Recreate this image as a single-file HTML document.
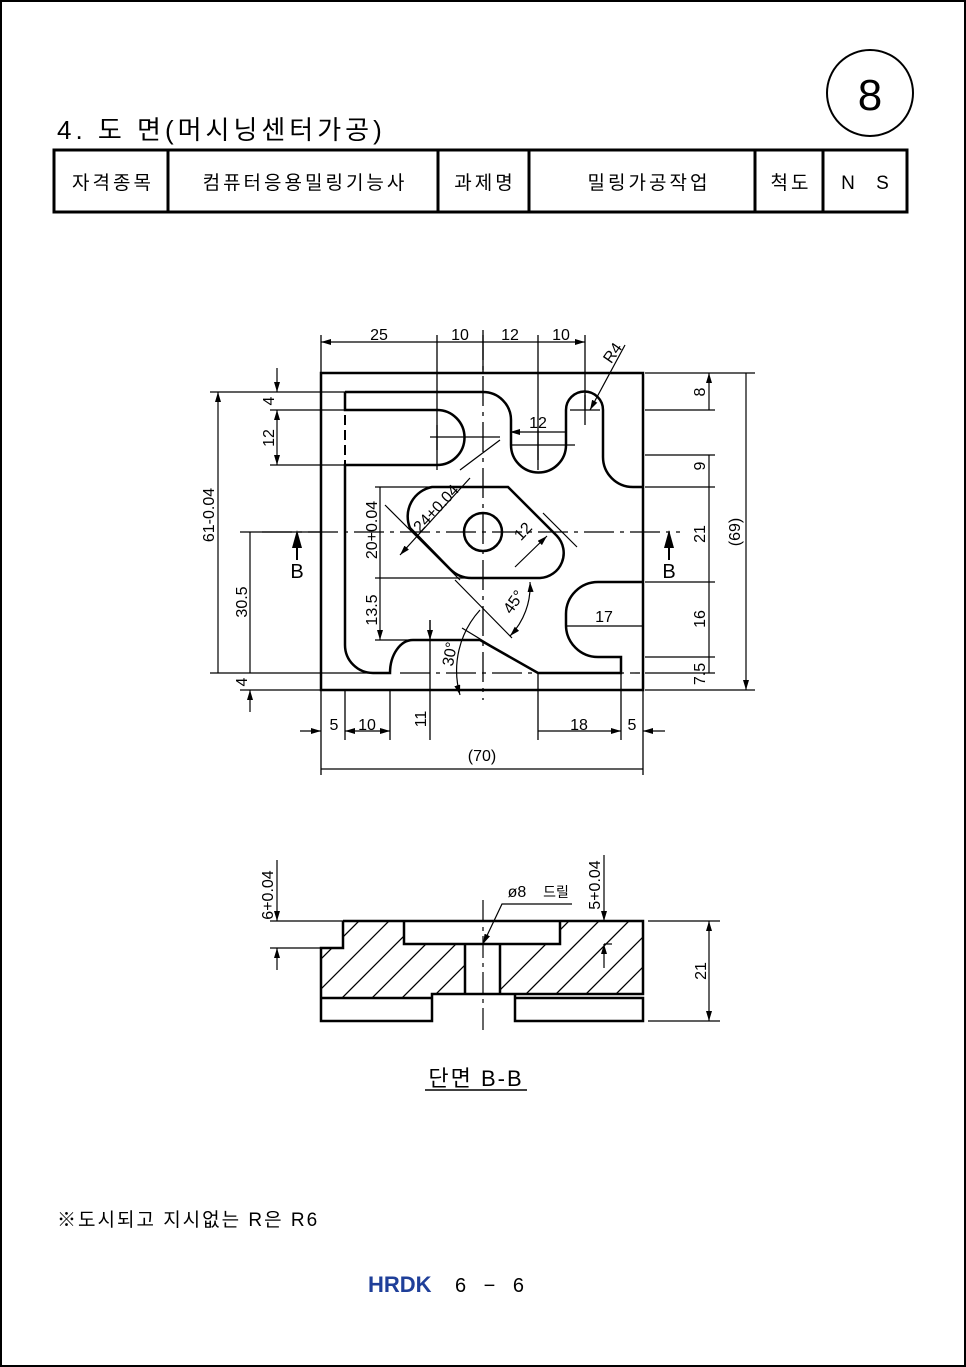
<!DOCTYPE html>
<html><head><meta charset="utf-8"><style>
body{margin:0;background:#fff}
svg{display:block}
text{font-family:"Liberation Sans","Noto Sans CJK KR",sans-serif;fill:#000}
.k{font-family:"Liberation Sans","Noto Sans CJK KR",sans-serif}
</style></head><body>
<svg width="966" height="1367" viewBox="0 0 966 1367" xmlns="http://www.w3.org/2000/svg">
<defs>
<marker id="a" viewBox="0 0 10 6" refX="10" refY="3" markerWidth="10" markerHeight="6" orient="auto-start-reverse" markerUnits="userSpaceOnUse"><path d="M0,0L10,3L0,6z" fill="#000"/></marker>
<clipPath id="hl"><path d="M343,921H404V944H465V994H432V998H321V948H343Z"/></clipPath>
<clipPath id="hr"><path d="M560,921H643V994H500V944H560Z"/></clipPath>
</defs>
<rect x="1" y="1" width="964" height="1365" fill="none" stroke="#000" stroke-width="2"/>
<circle cx="870" cy="93" r="43" fill="none" stroke="#000" stroke-width="2"/>
<text x="870" y="110" font-size="44" text-anchor="middle">8</text>
<text x="57" y="139" font-size="26" class="k" letter-spacing="4">4. 도 면(머시닝센터가공)</text>
<g fill="none" stroke="#000" stroke-width="3">
<rect x="54" y="150" width="853" height="62"/>
<path d="M168,150V212M438,150V212M529,150V212M755,150V212M823,150V212"/>
</g>
<g font-size="19" text-anchor="middle" class="k" letter-spacing="3">
<text x="113" y="189">자격종목</text><text x="305" y="189">컴퓨터응용밀링기능사</text>
<text x="485" y="189">과제명</text><text x="649" y="189">밀링가공작업</text>
<text x="791" y="189">척도</text><text x="869" y="189" letter-spacing="8">N S</text>
</g>

<g fill="none" stroke="#000" stroke-width="2.5">
<rect x="321" y="373" width="322" height="317"/>
<path d="M345,392H483A28,28 0 0 1 511,420V445A27,27 0 0 0 566,445V410A18.5,18.5 0 0 1 603,410V457A30,30 0 0 0 633,487H643"/>
<path d="M643,582H598A32,32 0 0 0 566,614V625A32,32 0 0 0 598,657H621V673H538L480,640H413A23,33 0 0 0 390,673H373A28,28 0 0 1 345,645V465H437A27.5,27.5 0 0 0 437,410H345V392"/>
<path d="M432,487H508L557,536A25,25 0 0 1 540,578H472A30,30 0 0 1 450,569L410,528A30,30 0 0 1 432,487Z"/>
<circle cx="483" cy="532" r="19"/>
</g>
<g stroke="#000" stroke-width="1.3" fill="none">
<path d="M345,415V465" stroke-dasharray="10,5" stroke-width="2"/>
<path d="M483,330V700" stroke-dasharray="30,6,4,6"/>
<path d="M262,532H680" stroke-dasharray="30,6,4,6"/>
<path d="M400,673H640" stroke-dasharray="30,6,4,6"/>
<path d="M430,437H500M437,425V450M570,410H600M585,395V425M510,445H575M538,430V460"/>
<path d="M321,335V373M437,335V470M483,335V373M538,335V470M585,335V410"/>
<path d="M645,373H755M645,410H715M645,455H715M645,487H715M645,582H715M645,657H715M645,673H715M645,690H755"/>
<path d="M210,392H345M270,410H345M270,465H345M240,532H321M210,673H390M240,690H321"/>
<path d="M321,690V775M345,690V740M390,690V740M643,690V775M538,673V740M621,673V740M430,620V740"/>
<path d="M375,487H432M375,578H472M375,640H413"/>
</g>
<g stroke="#000" stroke-width="1.2" fill="none" marker-start="url(#a)" marker-end="url(#a)">
<path d="M321,342H437M437,342H483M483,342H538M538,342H585"/>
<path d="M709,373V410M709,455V487M709,487V582M709,582V657M709,657V673M746,373V690"/>
<path d="M218,392V673M250,532V673M380,487V578M380,578V640"/>
<path d="M510,432H566M566,626H643M321,769H643M538,731H621"/>
<path d="M400,555L470,478M515,567L547,536"/>
</g>
<g stroke="#000" stroke-width="1.2" fill="none">
<path d="M277,368V392" marker-end="url(#a)"/><path d="M277,410V465" marker-start="url(#a)" marker-end="url(#a)"/>
<path d="M250,690V712" marker-start="url(#a)"/><path d="M300,731H321" marker-end="url(#a)"/>
<path d="M345,731H390" marker-start="url(#a)" marker-end="url(#a)"/>
<path d="M643,731H665" marker-start="url(#a)"/><path d="M430,620V640" marker-end="url(#a)"/>
<path d="M590,410L625,345" marker-start="url(#a)"/>
<path d="M455,580L512,638M385,505L460,580M460,470L500,440M543,513L577,547"/>
<path d="M530,582A72,72 0 0 1 510,636" marker-start="url(#a)" marker-end="url(#a)"/>
<path d="M480,610A90,90 0 0 0 460,695" marker-end="url(#a)"/>
<path d="M462,628L490,645"/>
</g>
<g fill="#000"><path d="M297,530L292,548H302Z"/><path d="M669,530L664,548H674Z"/></g>
<path d="M297,548V560M669,548V560" stroke="#000" stroke-width="2"/>
<g font-size="16" text-anchor="middle">
<text x="379" y="340">25</text><text x="460" y="340">10</text><text x="510" y="340">12</text><text x="561" y="340">10</text>
<text x="538" y="428">12</text><text x="604" y="622">17</text>
<text x="334" y="730">5</text><text x="367" y="730">10</text><text x="579" y="730">18</text><text x="632" y="730">5</text>
<text x="482" y="761">(70)</text>
<text x="297" y="578" font-size="20">B</text><text x="669" y="578" font-size="20">B</text>
</g>
<g font-size="16" text-anchor="middle">
<text transform="translate(705,392) rotate(-90)">8</text>
<text transform="translate(705,466) rotate(-90)">9</text>
<text transform="translate(705,534) rotate(-90)">21</text>
<text transform="translate(705,619) rotate(-90)">16</text>
<text transform="translate(705,674) rotate(-90)">7.5</text>
<text transform="translate(740,532) rotate(-90)">(69)</text>
<text transform="translate(274,401) rotate(-90)">4</text>
<text transform="translate(274,438) rotate(-90)">12</text>
<text transform="translate(214,515) rotate(-90)">61-0.04</text>
<text transform="translate(247,602) rotate(-90)">30.5</text>
<text transform="translate(247,682) rotate(-90)">4</text>
<text transform="translate(377,530) rotate(-90)">20+0.04</text>
<text transform="translate(377,610) rotate(-90)">13.5</text>
<text transform="translate(426,719) rotate(-90)">11</text>
<text transform="translate(455,655) rotate(-80)">30°</text>
<text transform="translate(518,605) rotate(-55)">45°</text>
<text transform="translate(440,512) rotate(-47)">24+0.04</text>
<text transform="translate(527,535) rotate(-47)">12</text>
<text transform="translate(617,356) rotate(-55)">R4</text>
</g>

<g clip-path="url(#hl)" stroke="#000" stroke-width="1.3">
<path d="M300,1040L420,920M330,1040L450,920M360,1040L480,920M390,1040L510,920M420,1040L540,920M270,1040L390,920M240,1040L360,920"/>
</g>
<g clip-path="url(#hr)" stroke="#000" stroke-width="1.3">
<path d="M480,1040L600,920M510,1040L630,920M540,1040L660,920M570,1040L690,920M600,1040L720,920M450,1040L570,920M630,1040L750,920"/>
</g>
<g fill="none" stroke="#000" stroke-width="2.5">
<path d="M343,921H643V994H500M343,921V948H321V1021H432V994H465M404,921V944H560V921M465,944V994H500V944"/>
<path d="M321,998H432M515,998H643V1021H515V994"/>
</g>
<g stroke="#000" stroke-width="1.2" fill="none">
<path d="M483,900V1035" stroke-dasharray="22,5,4,5"/>
<path d="M515,994H643" stroke-dasharray="6,3"/>
<path d="M270,921H343M270,948H320M648,921H720M648,1021H720"/>
<path d="M277,860V921" marker-end="url(#a)"/><path d="M277,948V970" marker-start="url(#a)"/>
<path d="M604,855V921" marker-end="url(#a)"/><path d="M604,944V968" marker-start="url(#a)"/>
<path d="M604,944H612"/>
<path d="M709,921V1021" marker-start="url(#a)" marker-end="url(#a)"/>
<path d="M572,904H502L483,944" marker-end="url(#a)"/>
</g>
<g font-size="16" text-anchor="middle">
<text x="517" y="897">ø8</text><text x="556" y="897" font-size="14" fill="#555">드릴</text>
<text transform="translate(273,895) rotate(-90)">6+0.04</text>
<text transform="translate(600,885) rotate(-90)">5+0.04</text>
<text transform="translate(706,971) rotate(-90)">21</text>
</g>
<text x="476" y="1086" font-size="22" text-anchor="middle" letter-spacing="2">단면 B-B</text>
<path d="M425,1090H527" stroke="#000" stroke-width="1.5"/>
<text x="57" y="1226" font-size="19" letter-spacing="2">※도시되고 지시없는 R은 R6</text>
<text x="368" y="1292" font-size="22" font-weight="bold" style="fill:#1f3f99">HRDK</text>
<text x="455" y="1292" font-size="20" letter-spacing="6">6 − 6</text>
</svg>
</body></html>
